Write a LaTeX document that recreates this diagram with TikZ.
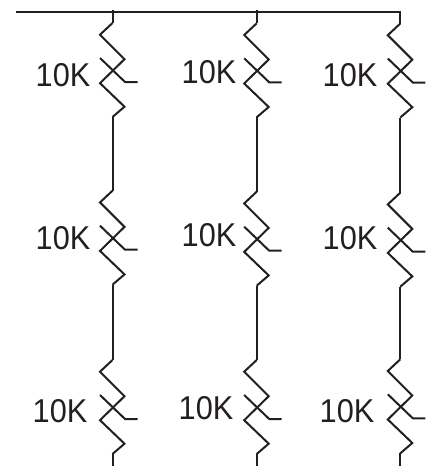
\documentclass[tikz,border=0pt]{standalone}
\usepackage{graphicx}
\usepackage{fontspec}
\setmainfont{Liberation Sans}
\definecolor{ink}{HTML}{231F20}
\newcommand{\lbl}{\scalebox{.93}[1]{10K}}
\tikzset{
  wire/.style={draw=ink,line width=2pt,line join=miter,line cap=butt},
  reslabel/.style={anchor=base east,inner sep=0pt,text=ink,font=\fontsize{33}{33}\selectfont}
}
% #1 name, #2 x, #3 y of the first kink
\newcommand{\potm}[3]{%
  \coordinate (#1in) at (#2,#3);
  \coordinate (#1out) at (#2,#3+94);
  \draw[wire] (#1in) -- ++(-12.5,11.7) -- ++(24.5,24.5) -- ++(-24.5,24) -- ++(24.5,23.5) -- (#1out);
  \draw[wire] (#2-12.5,#3+35) -- ++(25,24) -- ++(12.5,0);
}
\begin{document}
\begin{tikzpicture}[x=1pt,y=-1pt]
\useasboundingbox (0,0) rectangle (430,466);
\coordinate (busL) at (16,11.5);
\coordinate (busR) at (401.3,11.5);
\coordinate (t1) at (112.5,10);
\coordinate (t2) at (256.7,10);
\coordinate (t3) at (400.3,10.5);
\coordinate (e1) at (112.5,466);
\coordinate (e2) at (256.7,466);
\coordinate (e3) at (400.3,466);
\potm{a}{112.5}{23}
\potm{b}{112.5}{190.7}
\potm{c}{112.5}{360}
\potm{d}{256.7}{23.3}
\potm{e}{256.7}{191.7}
\potm{f}{256.7}{360}
\potm{g}{400.3}{23.5}
\potm{h}{400.3}{192.7}
\potm{i}{400.3}{359.3}
\draw[wire] (busL) -- (busR);
\draw[wire] (t1) -- (ain);
\draw[wire] (aout) -- (bin);
\draw[wire] (bout) -- (cin);
\draw[wire] (cout) -- (e1);
\draw[wire] (t2) -- (din);
\draw[wire] (dout) -- (ein);
\draw[wire] (eout) -- (fin);
\draw[wire] (fout) -- (e2);
\draw[wire] (t3) -- (gin);
\draw[wire] (gout) -- (hin);
\draw[wire] (hout) -- (iin);
\draw[wire] (iout) -- (e3);
\node[reslabel] (la) at (90.5,86) {\lbl};
\node[reslabel] (lb) at (90.5,249) {\lbl};
\node[reslabel] (lc) at (87.5,422) {\lbl};
\node[reslabel] (ld) at (236.5,83.3) {\lbl};
\node[reslabel] (le) at (236.5,246) {\lbl};
\node[reslabel] (lf) at (233.5,419.3) {\lbl};
\node[reslabel] (lg) at (377.5,86) {\lbl};
\node[reslabel] (lh) at (377.5,249) {\lbl};
\node[reslabel] (li) at (374.5,422) {\lbl};
\end{tikzpicture}
\end{document}
